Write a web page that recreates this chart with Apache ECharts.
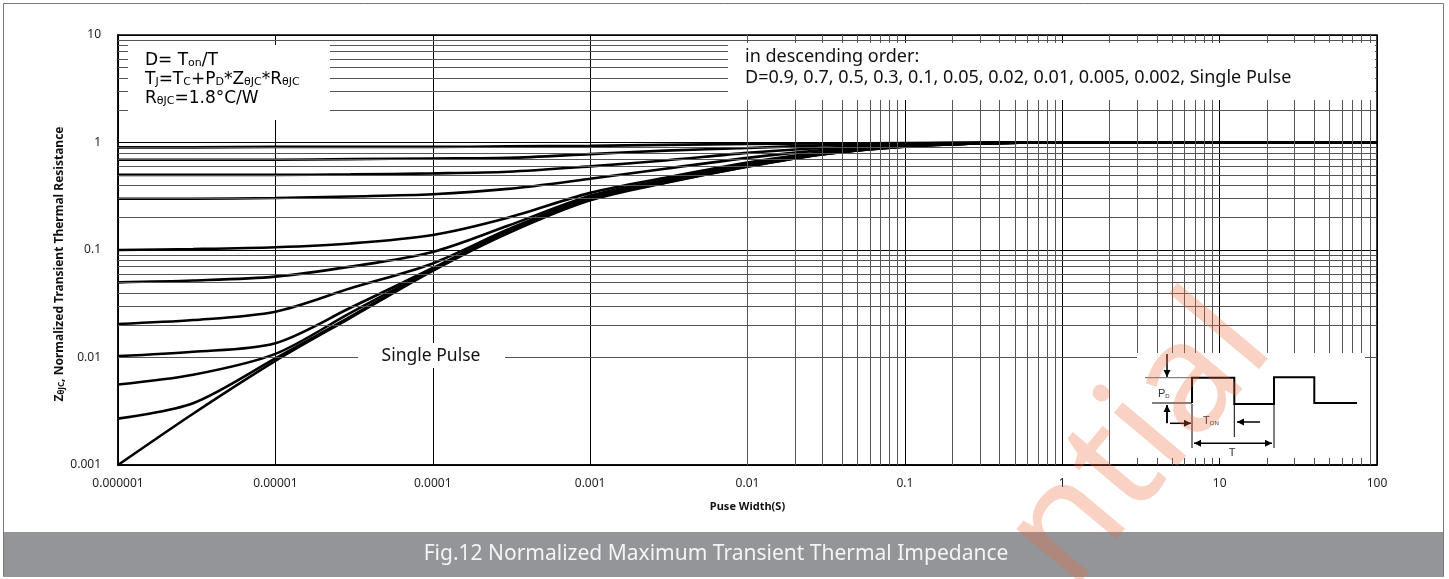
<!DOCTYPE html>
<html>
<head>
<meta charset="utf-8">
<script src="https://cdn.jsdelivr.net/npm/echarts@6/dist/echarts.min.js"></script>
<style>
html,body{margin:0;padding:0;background:#fff;}
#chart{width:1449px;height:579px;}
</style>
</head>
<body>
<div id="chart"></div>
<script>
// ---------- data ----------
const xTickLabels = ['0.000001','0.00001','0.0001','0.001','0.01','0.1','1','10','100'];
const yTickLabels = ['0.001','0.01','0.1','1','10'];
const pulseWidth = [1e-6, 3e-6, 1e-5, 3e-5, 1e-4, 3e-4, 1e-3, 3e-3, 1e-2, 3e-2, 0.1, 0.3, 1, 10, 100];
const dutyNames = ['D=0.9','D=0.7','D=0.5','D=0.3','D=0.1','D=0.05','D=0.02','D=0.01','D=0.005','D=0.002','Single Pulse'];
const zD09   = [0.90, 0.90, 0.91, 0.91, 0.91, 0.92, 0.93, 0.95, 0.97, 0.98, 0.99, 0.998, 1.0, 1.0, 1.0];
const zD07   = [0.69, 0.69, 0.69, 0.70, 0.71, 0.72, 0.78, 0.84, 0.89, 0.94, 0.975, 0.995, 1.0, 1.0, 1.0];
const zD05   = [0.50, 0.50, 0.50, 0.505, 0.516, 0.535, 0.60, 0.68, 0.80, 0.89, 0.96, 0.99, 1.0, 1.0, 1.0];
const zD03   = [0.30, 0.30, 0.305, 0.315, 0.33, 0.37, 0.46, 0.57, 0.72, 0.85, 0.95, 0.99, 1.0, 1.0, 1.0];
const zD01   = [0.10, 0.102, 0.106, 0.115, 0.138, 0.20, 0.34, 0.47, 0.65, 0.81, 0.935, 0.985, 1.0, 1.0, 1.0];
const zD005  = [0.05, 0.052, 0.0565, 0.07, 0.096, 0.168, 0.32, 0.45, 0.63, 0.80, 0.93, 0.985, 1.0, 1.0, 1.0];
const zD002  = [0.0205, 0.0223, 0.0267, 0.044, 0.075, 0.155, 0.31, 0.44, 0.62, 0.79, 0.925, 0.98, 1.0, 1.0, 1.0];
const zD001  = [0.0103, 0.0113, 0.0136, 0.029, 0.068, 0.15, 0.305, 0.435, 0.61, 0.785, 0.92, 0.98, 1.0, 1.0, 1.0];
const zD0005 = [0.0056, 0.0069, 0.0108, 0.026, 0.066, 0.147, 0.30, 0.43, 0.605, 0.78, 0.92, 0.98, 1.0, 1.0, 1.0];
const zD0002 = [0.0027, 0.00375, 0.0098, 0.024, 0.065, 0.145, 0.295, 0.425, 0.60, 0.78, 0.915, 0.98, 1.0, 1.0, 1.0];
const zSingle= [0.001, 0.0030, 0.0093, 0.0234, 0.064, 0.143, 0.29, 0.42, 0.595, 0.775, 0.915, 0.98, 1.0, 1.0, 1.0];
const curves = [zD09, zD07, zD05, zD03, zD01, zD005, zD002, zD001, zD0005, zD0002, zSingle];

// ---------- chart ----------
const chart = echarts.init(document.getElementById('chart'), null, {renderer:'canvas'});

const minorX = [], minorY = [];
for (let e = -6; e <= 1; e++) for (let k = 2; k <= 9; k++) minorX.push({xAxis: k * Math.pow(10, e)});
for (let e = -3; e <= 0; e++) for (let k = 2; k <= 9; k++) minorY.push({yAxis: k * Math.pow(10, e)});

const series = [{
  type: 'line', name: 'grid', data: [[1e-6, 0.001]], symbol: 'none', lineStyle: {width: 0},
  silent: true, z: 1,
  markLine: {
    silent: true, symbol: ['none','none'], label: {show: false},
    lineStyle: {color: '#555', width: 1, type: 'solid'},
    animation: false,
    data: minorX.concat(minorY)
  }
}];
curves.forEach((c, i) => {
  series.push({
    type: 'line', name: dutyNames[i],
    data: pulseWidth.map((x, j) => [x, c[j]]),
    symbol: 'none', smooth: 0.3,
    lineStyle: {color: '#000', width: 2.6}, z: 3, silent: true
  });
});

const FONT_A = '"Noto Sans", "Open Sans", sans-serif';
const FONT_B = '"DejaVu Sans", sans-serif';

function arrow(x1, y1, x2, y2, both) {
  const els = [];
  els.push({type:'line', shape:{x1,y1,x2,y2}, style:{stroke:'#000', lineWidth:1.5}, z:100});
  const head = (hx, hy, fx, fy) => {
    const a = Math.atan2(hy - fy, hx - fx), L = 7, W = 3.5;
    const bx = hx - L*Math.cos(a), by = hy - L*Math.sin(a);
    return {type:'polygon', shape:{points:[[hx,hy],[bx - W*Math.sin(a), by + W*Math.cos(a)],[bx + W*Math.sin(a), by - W*Math.cos(a)]]}, style:{fill:'#000'}, z:100};
  };
  els.push(head(x2, y2, x1, y1));
  if (both) els.push(head(x1, y1, x2, y2));
  return els;
}

const graphics = [
  // outer frame
  {type:'rect', shape:{x:3.5, y:3.5, width:1440, height:573}, style:{fill:'none', stroke:'#777', lineWidth:1}, z:0},
  // caption bar
  {type:'rect', shape:{x:4, y:532, width:1439, height:45}, style:{fill:'#939598'}, z:50},
  {type:'text', x:716, y:554, style:{text:'Fig.12 Normalized Maximum Transient Thermal Impedance', font:'21px ' + FONT_A, fill:'#f4f4f4', align:'center', verticalAlign:'middle'}, z:51},
  // y axis title
  {type:'text', x:58, y:264, rotation: Math.PI/2,
    style:{text:'{a|Z}{s|θJC}{a|, Normalized Transient Thermal Resistance}', align:'center', verticalAlign:'middle',
      rich:{a:{font:'bold 12px ' + FONT_A, fill:'#111', lineHeight:15, verticalAlign:'bottom'}, s:{font:'bold 8px ' + FONT_A, fill:'#111', lineHeight:11, verticalAlign:'bottom'}}}, z:51},
  // top-left box
  {type:'rect', shape:{x:128, y:45, width:202, height:75}, style:{fill:'#fff'}, z:20},
  {type:'text', x:145, y:50, style:{
    text:'{m|D= T}{s|on}{m|/T}\n{m|T}{s|J}{m|=T}{s|C}{m|+P}{s|D}{m|*Z}{s|θJC}{m|*R}{s|θJC}\n{m|R}{s|θJC}{m|=1.8°C/W}',
    rich:{m:{font:'17px ' + FONT_B, fill:'#000', lineHeight:19, verticalAlign:'bottom'}, s:{font:'11px ' + FONT_B, fill:'#000', lineHeight:15, verticalAlign:'bottom'}}}, z:21},
  // top-right box
  {type:'rect', shape:{x:728, y:43, width:647, height:57}, style:{fill:'#fff'}, z:20},
  {type:'text', x:745, y:46, style:{text:'in descending order:\nD=0.9, 0.7, 0.5, 0.3, 0.1, 0.05, 0.02, 0.01, 0.005, 0.002, Single Pulse', font:'18px ' + FONT_A, fill:'#111', lineHeight:21}, z:21},
  // single pulse label
  {type:'rect', shape:{x:358, y:343, width:147, height:25}, style:{fill:'#fff'}, z:20},
  {type:'text', x:431, y:356, style:{text:'Single Pulse', font:'17.5px ' + FONT_A, fill:'#111', align:'center', verticalAlign:'middle'}, z:21},
  // inset box
  {type:'rect', shape:{x:1137, y:353, width:228, height:105}, style:{fill:'#fff'}, z:20},
  {type:'line', shape:{x1:1145, y1:377.7, x2:1192, y2:377.7}, style:{stroke:'#666', lineWidth:1}, z:100},
  {type:'line', shape:{x1:1152, y1:403, x2:1192, y2:403}, style:{stroke:'#000', lineWidth:1}, z:100},
  {type:'polyline', shape:{points:[[1192,403],[1192,377.7],[1234.3,377.7],[1234.3,404],[1274,404],[1274,377.3],[1314.3,377.3],[1314.3,403],[1357,403]]}, style:{stroke:'#000', lineWidth:2, fill:'none'}, z:100},
  {type:'line', shape:{x1:1192, y1:404, x2:1192, y2:448}, style:{stroke:'#000', lineWidth:1}, z:100},
  {type:'line', shape:{x1:1234.3, y1:404, x2:1234.3, y2:437}, style:{stroke:'#000', lineWidth:1}, z:100},
  {type:'line', shape:{x1:1274, y1:404, x2:1274, y2:448}, style:{stroke:'#000', lineWidth:1}, z:100},
  {type:'line', shape:{x1:1167, y1:405, x2:1167, y2:423.3}, style:{stroke:'#000', lineWidth:1.5}, z:100},
  {type:'text', x:1158, y:393, style:{text:'{p|P}{d|D}', verticalAlign:'middle', rich:{p:{font:'11px "Liberation Sans", sans-serif', fill:'#333', verticalAlign:'bottom', lineHeight:12}, d:{font:'6px "Liberation Sans", sans-serif', fill:'#333', verticalAlign:'bottom', lineHeight:10}}}, z:100},
  {type:'text', x:1203, y:420, style:{text:'{p|T}{d|ON}', verticalAlign:'middle', rich:{p:{font:'11px "Liberation Sans", sans-serif', fill:'#333', verticalAlign:'bottom', lineHeight:12}, d:{font:'6px "Liberation Sans", sans-serif', fill:'#333', verticalAlign:'bottom', lineHeight:10}}}, z:100},
  {type:'text', x:1232, y:453, style:{text:'T', font:'11px "Liberation Sans", sans-serif', fill:'#333', align:'center', verticalAlign:'middle'}, z:100},
  // watermark
  {type:'text', x:1140, y:442, rotation: Math.PI*50/180, style:{text:'ntial', font:'155px ' + FONT_A, fill:'rgba(240,106,58,0.3)', align:'center', verticalAlign:'middle'}, z:200}
].concat(
  arrow(1167, 354, 1167, 377),
  arrow(1167, 423, 1167, 405),
  arrow(1170, 423.3, 1191, 423.3),
  arrow(1260, 422, 1237, 422),
  arrow(1194, 443.3, 1272, 443.3, true)
);

const option = {
  animation: false,
  backgroundColor: '#fff',
  grid: {left: 118, right: 72, top: 35, bottom: 114, show: true, borderColor: '#000', borderWidth: 1.5, backgroundColor: '#fff'},
  xAxis: {
    type: 'log', logBase: 10, min: 1e-6, max: 100, splitNumber: 8,
    name: 'Puse Width(S)', nameLocation: 'middle', nameGap: 36,
    nameTextStyle: {fontFamily: FONT_A, fontWeight: 'bold', fontSize: 11, color: '#111'},
    axisLine: {show: true, lineStyle: {color: '#000', width: 1.5}},
    axisTick: {show: false},
    axisLabel: {fontFamily: FONT_A, fontSize: 12, color: '#222', margin: 13, showMinLabel: true, showMaxLabel: true,
      formatter: v => { const i = Math.round(Math.log10(v)) + 6; return xTickLabels[i] !== undefined ? xTickLabels[i] : ''; }},
    splitLine: {show: true, lineStyle: {color: '#000', width: 1}}
  },
  yAxis: {
    type: 'log', logBase: 10, min: 0.001, max: 10, splitNumber: 4,
    axisLine: {show: true, lineStyle: {color: '#000', width: 1.5}},
    axisTick: {show: false},
    axisLabel: {fontFamily: FONT_A, fontSize: 12, color: '#222', margin: 17, showMinLabel: true, showMaxLabel: true,
      formatter: v => { const i = Math.round(Math.log10(v)) + 3; return yTickLabels[i] !== undefined ? yTickLabels[i] : ''; }},
    splitLine: {show: true, lineStyle: {color: '#000', width: 1}}
  },
  series: series,
  graphic: graphics
};
chart.setOption(option);
</script>
</body>
</html>
